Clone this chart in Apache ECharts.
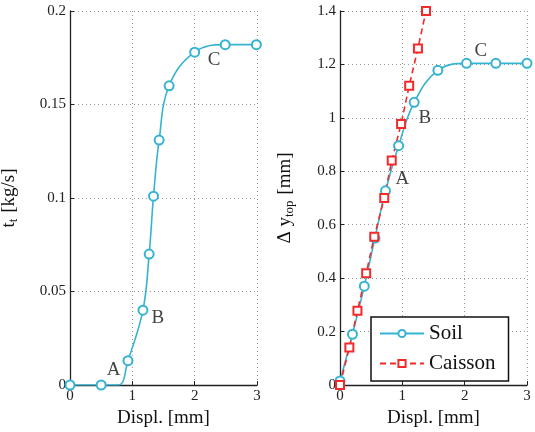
<!DOCTYPE html>
<html>
<head>
<meta charset="utf-8">
<script src="https://cdn.jsdelivr.net/npm/echarts@6/dist/echarts.min.js"></script>
<style>
  html, body { margin: 0; padding: 0; background: #fff; }
  #chart { width: 535px; height: 432px; }
</style>
</head>
<body>
<div id="chart"></div>
<script>
// left panel: t_t vs displacement
const flowDispl = [0, 0.5, 0.78, 0.93, 1.17, 1.27, 1.34, 1.43, 1.59, 2.0, 2.49, 2.99];
const flowValue = [0, 0, 0, 0.013, 0.040, 0.070, 0.101, 0.131, 0.160, 0.178, 0.182, 0.182];
const flowMarker = [true, true, false, true, true, true, true, true, true, true, true, true];

// right panel: soil and caisson top displacement
const soilDispl = [0, 0.2, 0.39, 0.56, 0.73, 0.94, 1.19, 1.57, 2.03, 2.5, 3.0];
const soilValue = [0.015, 0.19, 0.37, 0.55, 0.727, 0.896, 1.058, 1.178, 1.204, 1.204, 1.204];
const caissonDispl = [0, 0.15, 0.28, 0.42, 0.55, 0.71, 0.83, 0.98, 1.11, 1.25, 1.38];
const caissonValue = [0, 0.14, 0.278, 0.418, 0.555, 0.70, 0.84, 0.977, 1.12, 1.26, 1.40];

// point labels
const leftTags = [['A', 0.7, 0.008], ['B', 1.41, 0.036], ['C', 2.31, 0.174]];
const rightTags = [['A', 1.0, 0.77], ['B', 1.36, 1.0], ['C', 2.26, 1.25]];

const CYAN = '#37b3d2';
const RED = '#f22a2a';
const FONT = 'Liberation Serif';

const chart = echarts.init(document.getElementById('chart'));

function xAxisFor(idx) {
    return {
        gridIndex: idx, type: 'value', min: 0, max: 3, interval: 1,
        name: 'Displ. [mm]', nameLocation: 'middle', nameGap: 24,
        nameTextStyle: { fontFamily: FONT, fontSize: 19, color: '#111' },
        axisLine: { onZero: false, lineStyle: { color: '#222', width: 1.3 } },
        axisTick: { inside: true, length: 4, lineStyle: { color: '#222' } },
        axisLabel: { fontFamily: FONT, fontSize: 15, color: '#222', margin: 4 },
        splitLine: { show: true, lineStyle: { color: '#999', type: [1, 3], width: 1 } }
    };
}

function yAxisFor(idx, max, interval, name, gap, fmt) {
    return {
        gridIndex: idx, type: 'value', min: 0, max: max, interval: interval,
        name: name, nameLocation: 'middle', nameGap: gap, nameRotate: 90,
        nameTextStyle: {
            fontFamily: FONT, fontSize: 19, color: '#111',
            rich: {
                m: { fontFamily: FONT, fontSize: 19, color: '#111', lineHeight: 22, verticalAlign: 'middle' },
                s: { fontFamily: FONT, fontSize: 13, color: '#111', lineHeight: 22, verticalAlign: 'bottom', padding: [12, 1, 0, 0] }
            }
        },
        axisLine: { lineStyle: { color: '#222', width: 1.3 } },
        axisTick: { inside: true, length: 4, lineStyle: { color: '#222' } },
        axisLabel: { fontFamily: FONT, fontSize: 15, color: '#222', margin: 4, formatter: fmt },
        splitLine: { show: true, lineStyle: { color: '#999', type: [1, 3], width: 1 } }
    };
}

function tagSeries(tags, xi, yi) {
    return {
        type: 'scatter', xAxisIndex: xi, yAxisIndex: yi, symbolSize: 0, silent: true,
        data: tags.map(t => ({ value: [t[1], t[2]], name: t[0] })),
        label: {
            show: true, position: 'inside', formatter: p => p.name,
            fontFamily: FONT, fontSize: 19, color: '#111'
        }
    };
}

chart.setOption({
    animation: false,
    backgroundColor: '#fff',
    grid: [
        { left: 70, right: 278, top: 11, bottom: 47, outerBoundsMode: 'none' },
        { left: 340, right: 8, top: 11, bottom: 47, outerBoundsMode: 'none' }
    ],
    xAxis: [xAxisFor(0), xAxisFor(1)],
    yAxis: [
        yAxisFor(0, 0.2, 0.05, '{m|t}{s|t}{m| [kg/s]}', 50, v => v === 0 ? '0' : String(+v.toFixed(2))),
        yAxisFor(1, 1.4, 0.2, '{m|Δ y}{s|top}{m| [mm]}', 44, v => v === 0 ? '0' : (Math.abs(v - 1) < 1e-9 ? '1' : v.toFixed(1)))
    ],
    legend: {
        left: 371, top: 317,
        orient: 'vertical', itemGap: 9, itemWidth: 44, itemHeight: 9,
        padding: [6, 13, 7, 8],
        borderColor: '#111', borderWidth: 1.5, backgroundColor: '#fff',
        textStyle: { fontFamily: FONT, fontSize: 21, color: '#111' },
        data: ['Soil', 'Caisson']
    },
    series: [
        {
            name: 'Flow', type: 'line', xAxisIndex: 0, yAxisIndex: 0,
            smooth: 0.4,
            symbol: 'emptyCircle', symbolSize: 9,
            lineStyle: { color: CYAN, width: 1.6 },
            itemStyle: { color: CYAN, borderWidth: 1.5 },
            data: flowDispl.map((d, i) => flowMarker[i]
                ? [d, flowValue[i]]
                : { value: [d, flowValue[i]], symbol: 'none' })
        },
        {
            name: 'Soil', type: 'line', xAxisIndex: 1, yAxisIndex: 1,
            smooth: 0.4,
            symbol: 'emptyCircle', symbolSize: 9,
            lineStyle: { color: CYAN, width: 1.6 },
            itemStyle: { color: CYAN, borderWidth: 1.5 },
            data: soilDispl.map((d, i) => [d, soilValue[i]])
        },
        {
            name: 'Caisson', type: 'line', xAxisIndex: 1, yAxisIndex: 1,
            symbol: 'emptyRect', symbolSize: 8,
            lineStyle: { color: RED, width: 1.6, type: [6, 4] },
            itemStyle: { color: RED, borderWidth: 1.5 },
            data: caissonDispl.map((d, i) => [d, caissonValue[i]])
        },
        tagSeries(leftTags, 0, 0),
        tagSeries(rightTags, 1, 1)
    ]
});
</script>
</body>
</html>
